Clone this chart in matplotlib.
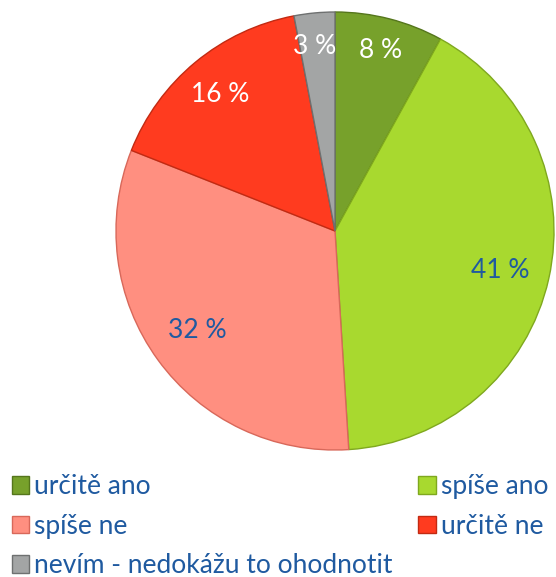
import matplotlib.pyplot as plt
from matplotlib.patches import Patch

plt.rcParams['font.family'] = ['Lato', 'DejaVu Sans']

# data
labels = ["určitě ano", "spíše ano", "spíše ne", "určitě ne", "nevím - nedokážu to ohodnotit"]
values = [8, 41, 32, 16, 3]
colors = ["#77a12b", "#a8d92f", "#ff8f80", "#ff3b1f", "#a3a5a5"]
edges = ["#55761c", "#7fa81e", "#d8685a", "#c22a12", "#6e7070"]
pct_colors = ["white", "#1f5aa0", "#1f5aa0", "white", "white"]

fig = plt.figure(figsize=(5.56, 5.77), dpi=100)
ax = fig.add_axes([0, 0, 1, 1])

wedges, texts, autotexts = ax.pie(values, colors=colors, startangle=90, counterclock=False,
                                  center=(335, 346), radius=219, frame=True,
                                  autopct="%d %%", pctdistance=0.8,
                                  wedgeprops=dict(linewidth=1.0),
                                  textprops=dict(fontsize=19))
ax.set_xlim(0, 556)
ax.set_ylim(0, 577)
ax.set_aspect("equal")
ax.axis("off")

for w, e in zip(wedges, edges):
    w.set_edgecolor(e)
for t, c in zip(autotexts, pct_colors):
    t.set_color(c)
# the original labels sit a bit off the slice centres
autotexts[0].set_position((381, 526))
autotexts[1].set_position((500, 307))
autotexts[2].set_position((197, 247))
autotexts[3].set_position((220, 482))
autotexts[4].set_position((315, 530))

order = [0, 2, 4, 1, 3]
handles = [Patch(facecolor=colors[i], edgecolor=edges[i], label=labels[i]) for i in order]
leg = fig.legend(handles=handles, ncol=2, loc="upper left", bbox_to_anchor=(0.021, 0.178),
                 frameon=False, fontsize=19, handlelength=0.65, handleheight=0.65,
                 handletextpad=0.2, columnspacing=0.98, labelspacing=0.55,
                 borderaxespad=0, borderpad=0)
for t in leg.get_texts():
    t.set_color("#1f5aa0")

fig.savefig("out.png", dpi=100)
